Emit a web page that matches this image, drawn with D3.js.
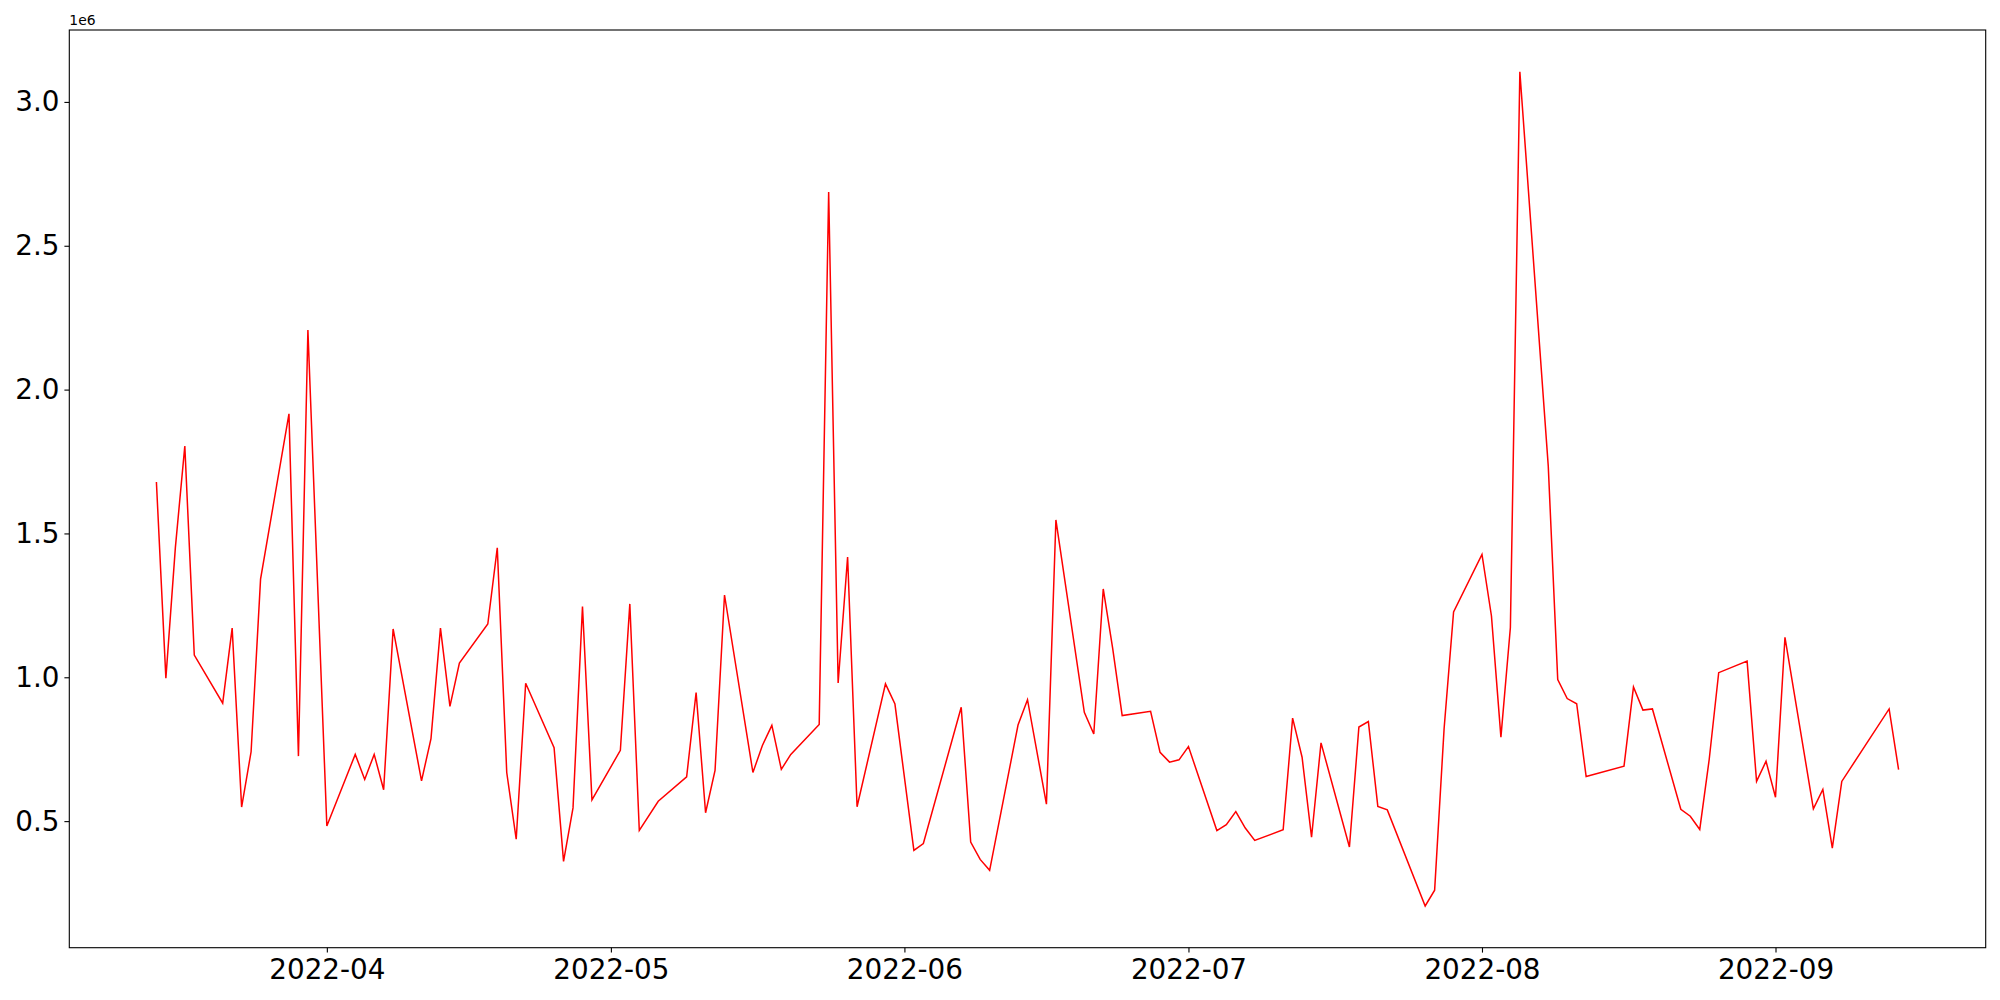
<!DOCTYPE html>
<html>
<head>
<meta charset="utf-8">
<style>
    body { margin: 0; background: #fff; }
    svg { display: block; font-family: "DejaVu Sans", sans-serif; }
    .axis { font-family: "DejaVu Sans", sans-serif; }
    .axis text { font-size: 27.8px; fill: #000; }
    .axis line { stroke: #000; stroke-width: 1.1px; }
</style>
<script src="https://cdn.jsdelivr.net/npm/d3@7"></script>
</head>
<body>
<svg id="chart" width="2000" height="1000"></svg>
<script>
// Daily volume
var dates = [
    "2022-03-14", "2022-03-15", "2022-03-16", "2022-03-17", "2022-03-18",
    "2022-03-21", "2022-03-22", "2022-03-23", "2022-03-24", "2022-03-25",
    "2022-03-28", "2022-03-29", "2022-03-30", "2022-04-01",
    "2022-04-04", "2022-04-05", "2022-04-06", "2022-04-07", "2022-04-08",
    "2022-04-11", "2022-04-12", "2022-04-13", "2022-04-14", "2022-04-15",
    "2022-04-18", "2022-04-19", "2022-04-20", "2022-04-21", "2022-04-22",
    "2022-04-25", "2022-04-26", "2022-04-27", "2022-04-28", "2022-04-29",
    "2022-05-02", "2022-05-03", "2022-05-04", "2022-05-06",
    "2022-05-09", "2022-05-10", "2022-05-11", "2022-05-12", "2022-05-13",
    "2022-05-16", "2022-05-17", "2022-05-18", "2022-05-19", "2022-05-20",
    "2022-05-23", "2022-05-24", "2022-05-25", "2022-05-26", "2022-05-27",
    "2022-05-30", "2022-05-31", "2022-06-02", "2022-06-03",
    "2022-06-07", "2022-06-08", "2022-06-09", "2022-06-10",
    "2022-06-13", "2022-06-14", "2022-06-16", "2022-06-17",
    "2022-06-20", "2022-06-21", "2022-06-22", "2022-06-23", "2022-06-24",
    "2022-06-27", "2022-06-28", "2022-06-29", "2022-06-30", "2022-07-01",
    "2022-07-04", "2022-07-05", "2022-07-06", "2022-07-07", "2022-07-08",
    "2022-07-11", "2022-07-12", "2022-07-13", "2022-07-14", "2022-07-15",
    "2022-07-18", "2022-07-19", "2022-07-20", "2022-07-21", "2022-07-22",
    "2022-07-26", "2022-07-27", "2022-07-28", "2022-07-29",
    "2022-08-01", "2022-08-02", "2022-08-03", "2022-08-04", "2022-08-05",
    "2022-08-08", "2022-08-09", "2022-08-10", "2022-08-11", "2022-08-12",
    "2022-08-16", "2022-08-17", "2022-08-18", "2022-08-19",
    "2022-08-22", "2022-08-23", "2022-08-24", "2022-08-25", "2022-08-26",
    "2022-08-29", "2022-08-30", "2022-08-31", "2022-09-01", "2022-09-02",
    "2022-09-05", "2022-09-06", "2022-09-07", "2022-09-08",
    "2022-09-13", "2022-09-14"
];

var volumes = [
    1679000, 997000, 1450000, 1804000, 1077000,
    910000, 1171000, 549000, 741000, 1341000,
    1916000, 726000, 2207000, 483000,
    732000, 645000, 732000, 609000, 1168000,
    640000, 787000, 1171000, 899000, 1049000,
    1185000, 1450000, 669000, 437000, 979000,
    755000, 360000, 546000, 1246000, 574000,
    746000, 1255000, 468000, 569000,
    654000, 947000, 529000, 676000, 1286000,
    669000, 763000, 833000, 680000, 732000,
    836000, 2687000, 980000, 1418000, 550000,
    977000, 907000, 398000, 422000,
    896000, 427000, 367000, 329000,
    834000, 922000, 559000, 1547000,
    878000, 803000, 1307000, 1100000, 867000,
    882000, 739000, 705000, 713000, 759000,
    467000, 488000, 533000, 476000, 433000,
    470000, 858000, 722000, 444000, 772000,
    410000, 827000, 846000, 551000, 539000,
    205000, 260000, 822000, 1227000,
    1427000, 1213000, 792000, 1173000, 3105000,
    1734000, 992000, 926000, 908000, 655000,
    691000, 966000, 886000, 890000,
    541000, 517000, 471000, 715000, 1016000,
    1056000, 638000, 708000, 583000, 1139000,
    543000, 610000, 406000, 638000,
    890000, 679000
];

var xTickDates = ["2022-04-01", "2022-05-01", "2022-06-01", "2022-07-01", "2022-08-01", "2022-09-01"];
var yTickValues = [500000, 1000000, 1500000, 2000000, 2500000, 3000000];

window.addEventListener("load", function () {
    drawChart();
});

// matplotlib style 5% padding around the data
function padded(lo, hi) {
    var pad = (hi - lo) * 0.05;
    return [lo - pad, hi + pad];
}

function drawChart() {
    var parse = d3.utcParse("%Y-%m-%d");
    var data = dates.map(function (d, i) { return { date: parse(d), value: volumes[i] }; });

    var svg = d3.select("#chart"),
        left = 69.3, right = 1985.7, top = 30, bottom = 947.7;

    var xExt = d3.extent(data, function (d) { return +d.date; });
    var yExt = d3.extent(data, function (d) { return d.value; });

    var x = d3.scaleUtc().domain(padded(xExt[0], xExt[1])).range([left, right]);
    var y = d3.scaleLinear().domain(padded(yExt[0], yExt[1])).range([bottom, top]);

    svg.append("rect").attr("width", 2000).attr("height", 1000).attr("fill", "#fff");

    var line = d3.line()
        .x(function (d) { return x(d.date); })
        .y(function (d) { return y(d.value); });

    svg.append("path")
        .datum(data)
        .attr("fill", "none")
        .attr("stroke", "#ff0000")
        .attr("stroke-width", 1.5)
        .attr("stroke-linejoin", "miter")
        .attr("d", line);

    var xAxis = svg.append("g")
        .attr("class", "axis")
        .attr("transform", "translate(0," + bottom + ")")
        .call(d3.axisBottom(x)
            .tickValues(xTickDates.map(parse))
            .tickFormat(d3.utcFormat("%Y-%m"))
            .tickSize(4.9)
            .tickPadding(4.9));
    xAxis.select(".domain").remove();
    xAxis.selectAll("text").attr("dy", "0.76em");

    var yAxis = svg.append("g")
        .attr("class", "axis")
        .attr("transform", "translate(" + left + ",0)")
        .call(d3.axisLeft(y)
            .tickValues(yTickValues)
            .tickFormat(function (d) { return (d / 1e6).toFixed(1); })
            .tickSize(4.9)
            .tickPadding(4.9));
    yAxis.select(".domain").remove();

    // offset text
    svg.append("text")
        .attr("x", left)
        .attr("y", 25)
        .style("font-size", "13.9px")
        .text("1e6");

    // frame
    svg.append("rect")
        .attr("x", left)
        .attr("y", top)
        .attr("width", right - left)
        .attr("height", bottom - top)
        .attr("fill", "none")
        .attr("stroke", "#000")
        .attr("stroke-width", 1.1);
}
</script>
</body>
</html>
